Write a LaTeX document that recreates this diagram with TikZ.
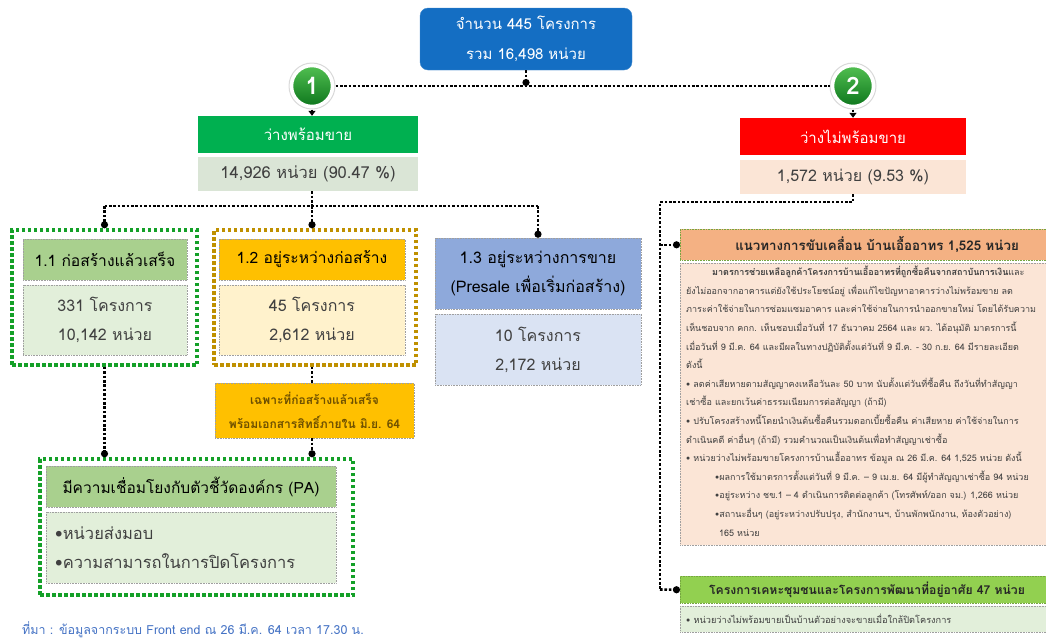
\documentclass[tikz,border=0pt]{standalone}
\usepackage{fontspec}
\setmainfont[Script=Thai]{Loma}
\usetikzlibrary{arrows.meta,shapes.geometric}
\definecolor{topblue}{RGB}{20,110,195}
\definecolor{hgreen}{RGB}{0,176,80}
\definecolor{sgreen}{RGB}{218,229,214}
\definecolor{hred}{RGB}{255,0,0}
\definecolor{spink}{RGB}{251,229,214}
\definecolor{olive}{RGB}{169,208,142}
\definecolor{lgreen}{RGB}{226,239,218}
\definecolor{gold}{RGB}{255,192,0}
\definecolor{lgold}{RGB}{255,242,204}
\definecolor{dgold}{RGB}{191,144,0}
\definecolor{bblue}{RGB}{142,169,219}
\definecolor{lblue}{RGB}{218,227,243}
\definecolor{orng}{RGB}{244,177,131}
\definecolor{lime}{RGB}{146,208,80}
\definecolor{dgreen}{RGB}{20,160,40}
\definecolor{txtgray}{RGB}{64,64,64}
\definecolor{fnblue}{RGB}{68,114,196}
\definecolor{brown}{RGB}{110,80,0}
\tikzset{
  conn/.style={line width=2.6pt, dash pattern=on 2.6pt off 1.8pt, black},
  dotend/.style={-{Circle[length=7pt,width=7pt]}},
  triend/.style={-{Triangle[length=5pt,width=7pt]}},
  bx/.style={rectangle, inner sep=0pt, draw=gray!75, line width=0.6pt, densely dotted, align=center},
  plain/.style={rectangle, inner sep=0pt, align=center},
  outerg/.style={rectangle, inner sep=0pt, draw=dgreen, line width=3.5pt, dash pattern=on 3.5pt off 2.5pt},
  outery/.style={rectangle, inner sep=0pt, draw=dgold, line width=3.5pt, dash pattern=on 3.5pt off 2.5pt},
  ring/.style={circle, minimum size=46pt, fill=white, draw=gray!30, line width=1pt, inner sep=0pt},
  numc/.style={circle, minimum size=39pt, inner sep=0pt, top color={rgb,255:red,80;green,190;blue,80}, bottom color={rgb,255:red,15;green,120;blue,30}, draw=white, line width=1.5pt, text=white, font=\fontsize{24}{24}\selectfont\bfseries},
}
\begin{document}
\begin{tikzpicture}[x=1pt,y=-1pt]
\useasboundingbox (0,0) rectangle (1046,638);
\clip (0,0) rectangle (1046,638);

% top box
\node[plain, fill=topblue, draw=topblue!80!white, rounded corners=8pt, minimum width=212pt, minimum height=62pt, text=white, font=\fontsize{15}{30}\selectfont] (top) at (526,39) {จำนวน 445 โครงการ\\รวม 16,498 หน่วย};

% circles
\node[ring] (c1o) at (312,86) {};
\node[numc] (c1) at (312,86) {1};
\node[ring] (c2o) at (853,86) {};
\node[numc] (c2) at (853,86) {2};

% level 1
\node[plain, fill=hgreen, minimum width=220pt, minimum height=37pt, text=white, font=\fontsize{15}{20}\selectfont] (g1h) at (308,134.5) {ว่างพร้อมขาย};
\node[plain, fill=sgreen, minimum width=220pt, minimum height=34pt, text=txtgray, font=\fontsize{16.5}{20}\selectfont] (g1s) at (308,174) {14,926 หน่วย (90.47 \%)};
\node[plain, fill=hred, minimum width=226pt, minimum height=37pt, text=white, font=\fontsize{15}{20}\selectfont] (r1h) at (853,136.5) {ว่างไม่พร้อมขาย};
\node[plain, fill=spink, minimum width=226pt, minimum height=34pt, text=txtgray, font=\fontsize{16}{20}\selectfont] (r1s) at (853,177) {1,572 หน่วย (9.53 \%)};

% 1.1
\node[outerg, minimum width=185pt, minimum height=135pt] (o11) at (104.5,297.5) {};
\node[bx, fill=olive, minimum width=164pt, minimum height=41pt, font=\fontsize{15.6}{20}\selectfont] (h11) at (105,259.5) {1.1 ก่อสร้างแล้วเสร็จ};
\node[bx, fill=lgreen, minimum width=164pt, minimum height=70pt, text=txtgray, font=\fontsize{16}{29}\selectfont] (b11) at (105,320) {331 โครงการ\\10,142 หน่วย};

% 1.2
\node[outery, minimum width=202pt, minimum height=135pt] (o12) at (315,297.5) {};
\node[bx, fill=gold, minimum width=186pt, minimum height=41pt, font=\fontsize{15.6}{20}\selectfont] (h12) at (312,259.5) {1.2 อยู่ระหว่างก่อสร้าง};
\node[bx, fill=lgold, minimum width=186pt, minimum height=70pt, text=txtgray, font=\fontsize{16}{29}\selectfont] (b12) at (312,320) {45 โครงการ\\2,612 หน่วย};

% 1.3
\node[bx, fill=bblue, minimum width=206pt, minimum height=71pt, font=\fontsize{16}{29}\selectfont] (h13) at (538,273.5) {1.3 อยู่ระหว่างการขาย\\(Presale เพื่อเริ่มก่อสร้าง)};
\node[bx, fill=lblue, minimum width=206pt, minimum height=71pt, text=txtgray, font=\fontsize{16}{29}\selectfont] (b13) at (538,349.5) {10 โครงการ\\2,172 หน่วย};

% only finished
\node[bx, fill=gold, minimum width=199pt, minimum height=55pt, text=brown, font=\fontsize{12}{24}\selectfont\bfseries] (fin) at (314.5,410.5) {เฉพาะที่ก่อสร้างแล้วเสร็จ\\พร้อมเอกสารสิทธิ์ภายใน มิ.ย. 64};

% PA
\node[outerg, minimum width=313pt, minimum height=136pt] (pao) at (196.5,527) {};
\node[bx, fill=olive, minimum width=290pt, minimum height=41pt, font=\fontsize{15.5}{22}\selectfont] (pah) at (191,486.5) {มีความเชื่อมโยงกับตัวชี้วัดองค์กร (PA)};
\node[bx, fill=lgreen, minimum width=290pt, minimum height=71pt] (pab) at (191,547.5) {};
\node[plain, anchor=west, text=txtgray, font=\fontsize{16.5}{29}\selectfont, align=left] (pat) at (55,547.5) {•หน่วยส่งมอบ\\•ความสามารถในการปิดโครงการ};

% footnote
\node[plain, anchor=base west, text=fnblue, font=\fontsize{12.5}{14}\selectfont] (fn) at (22,634) {ที่มา : ข้อมูลจากระบบ Front end ณ 26 มี.ค. 64 เวลา 17.30 น.};

% right column
\node[rectangle, inner sep=0pt, fill=orng, draw=lime!80!black, line width=0.6pt, densely dotted, minimum width=380pt, minimum height=31pt, anchor=north west] (oh) at (680,229) {};
\node[plain, font=\fontsize{13.3}{16}\selectfont\bfseries, text=black!85] (oht) at (877,244.5) {แนวทางการขับเคลื่อน บ้านเอื้ออาทร 1,525 หน่วย};
\node[bx, fill=spink, minimum width=380pt, minimum height=282pt, anchor=north west] (ob) at (680,263) {};
\node[plain, anchor=north west, align=left, text=txtgray, font=\fontsize{9}{18.6}\selectfont] (obt) at (686,266) {%
\hspace*{26pt}{\bfseries มาตรการช่วยเหลือลูกค้าโครงการบ้านเอื้ออาทรที่ถูกซื้อคืนจากสถาบันการเงิน}และ\\
ยังไม่ออกจากอาคารแต่ยังใช้ประโยชน์อยู่ เพื่อแก้ไขปัญหาอาคารว่างไม่พร้อมขาย ลด\\
ภาระค่าใช้จ่ายในการซ่อมแซมอาคาร และค่าใช้จ่ายในการนำออกขายใหม่ โดยได้รับความ\\
เห็นชอบจาก คกก. เห็นชอบเมื่อวันที่ 17 ธันวาคม 2564 และ ผว. ได้อนุมัติ มาตรการนี้\\
เมื่อวันที่ 9 มี.ค. 64 และมีผลในทางปฏิบัติตั้งแต่วันที่ 9 มี.ค. - 30 ก.ย. 64 มีรายละเอียด\\
ดังนี้\\
• ลดค่าเสียหายตามสัญญาคงเหลือวันละ 50 บาท นับตั้งแต่วันที่ซื้อคืน ถึงวันที่ทำสัญญา\\
เช่าซื้อ และยกเว้นค่าธรรมเนียมการต่อสัญญา (ถ้ามี)\\
• ปรับโครงสร้างหนี้โดยนำเงินต้นซื้อคืนรวมดอกเบี้ยซื้อคืน ค่าเสียหาย ค่าใช้จ่ายในการ\\
ดำเนินคดี ค่าอื่นๆ (ถ้ามี) รวมคำนวณเป็นเงินต้นเพื่อทำสัญญาเช่าซื้อ\\
• หน่วยว่างไม่พร้อมขายโครงการบ้านเอื้ออาทร ข้อมูล ณ 26 มี.ค. 64 1,525 หน่วย ดังนี้\\
\hspace*{29pt}•ผลการใช้มาตรการตั้งแต่วันที่ 9 มี.ค. – 9 เม.ย. 64 มีผู้ทำสัญญาเช่าซื้อ 94 หน่วย\\
\hspace*{29pt}•อยู่ระหว่าง ชข.1 – 4 ดำเนินการติดต่อลูกค้า (โทรศัพท์/ออก จม.) 1,266 หน่วย\\
\hspace*{29pt}•สถานะอื่นๆ (อยู่ระหว่างปรับปรุง, สำนักงานฯ, บ้านพักพนักงาน, ห้องตัวอย่าง)\\
\hspace*{33pt}165 หน่วย};

\node[rectangle, inner sep=0pt, fill=lime, draw=lime!80!black, line width=0.6pt, densely dotted, minimum width=380pt, minimum height=27pt, anchor=north west] (gh) at (680,576) {};
\node[plain, font=\fontsize{12.2}{15}\selectfont\bfseries, text=black!85] (ght) at (867,589.5) {โครงการเคหะชุมชนและโครงการพัฒนาที่อยู่อาศัย 47 หน่วย};
\node[bx, fill=lgreen, minimum width=380pt, minimum height=26pt, anchor=north west] (gb) at (680,606) {};
\node[plain, anchor=west, text=txtgray, font=\fontsize{9.2}{11}\selectfont] (gbt) at (686,619) {• หน่วยว่างไม่พร้อมขายเป็นบ้านตัวอย่างจะขายเมื่อใกล้ปิดโครงการ};

% connectors
\draw[conn] (c1o.east) -- (c2o.west);
\draw[conn, dotend] (top.south) -- (top.south |- c1o.east);
\draw[conn, triend] (c1o.south) -- (c1o.south |- g1h.north);
\draw[conn, triend] (c2o.south) -- (c2o.south |- r1h.north);

\coordinate (j1) at (312,206);
\draw[conn] (j1 |- g1s.south) -- (j1);
\draw[conn] (o11.north |- j1) -- (h13.north |- j1);
\draw[conn, dotend] (o11.north |- j1) -- (o11.north);
\draw[conn, dotend] (j1) -- (j1 |- o12.north);
\draw[conn, dotend] (h13.north |- j1) -- (h13.north);
\draw[conn] (j1 |- o12.south) -- (j1 |- fin.north);
\draw[conn, dotend] (j1 |- fin.south) -- (j1 |- pao.north);
\draw[conn, dotend] (o11.south) -- (o11.south |- pao.north);

\coordinate (j2) at (853,202);
\coordinate (j3) at (660,202);
\coordinate (j4) at (660,589.5);
\draw[conn] (r1s.south) -- (j2) -- (j3) -- (j4);
\draw[conn, dotend] (j3 |- oh.west) -- (oh.west);
\draw[conn, dotend] (j4) -- (gh.west);
\end{tikzpicture}
\end{document}
